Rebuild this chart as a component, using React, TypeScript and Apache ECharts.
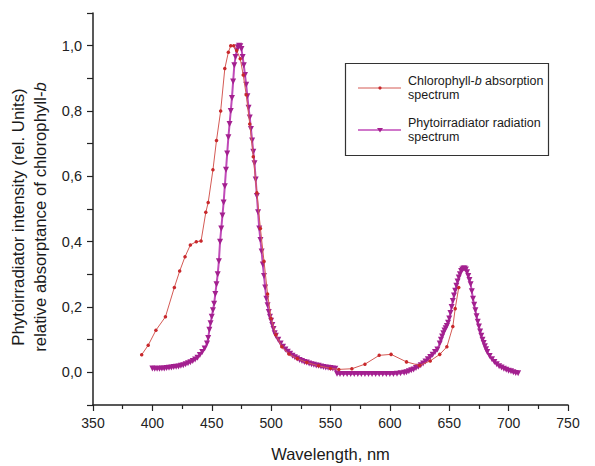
import React, { useEffect, useRef } from "react";
import * as echarts from "echarts";

const xTicks = [350, 400, 450, 500, 550, 600, 650, 700, 750];
const yLabelValues = [0, 0.2, 0.4, 0.6, 0.8, 1.0];

const chlorophyllB: [number, number][] = [
  [391, 0.054], [396.5, 0.083], [403, 0.129], [411, 0.17], [418.5, 0.26], [423, 0.31],
  [427.5, 0.354], [432, 0.39], [437, 0.4], [441, 0.402], [445, 0.49], [447, 0.52],
  [451, 0.62], [454, 0.71], [457.5, 0.8], [461, 0.93], [464, 0.98], [466, 1.0],
  [468.5, 1.0], [471, 0.985], [474, 0.96], [476.5, 0.91], [479, 0.85], [482, 0.76],
  [485, 0.66], [488, 0.55], [491, 0.44], [494, 0.34], [497, 0.24], [500, 0.165],
  [504, 0.115], [509, 0.078], [515, 0.056], [522, 0.042], [530, 0.03], [540, 0.02],
  [550, 0.012], [557, 0.009], [568, 0.011], [579, 0.025], [591, 0.052], [601, 0.055],
  [614, 0.032], [625, 0.021], [634, 0.035], [642, 0.055], [648, 0.078], [653, 0.14],
  [655, 0.195], [658, 0.26],
];

const phytoirradiator: [number, number][] = [
  [400, 0.012], [402, 0.011], [404, 0.011], [406, 0.011], [408, 0.012], [410, 0.012],
  [412, 0.013], [414, 0.014], [416, 0.015], [418, 0.016], [420, 0.017], [422, 0.018],
  [424, 0.02], [426, 0.022], [428, 0.025], [430, 0.028], [432, 0.031], [434, 0.035],
  [436, 0.039], [438, 0.045], [440, 0.053], [442, 0.062], [444, 0.073], [446, 0.088],
  [447, 0.105], [448, 0.13], [449, 0.15], [450, 0.17], [451, 0.19], [452, 0.21],
  [453, 0.24], [454, 0.27], [455, 0.3], [456, 0.34], [457, 0.4], [458, 0.44],
  [459, 0.48], [460, 0.52], [461, 0.57], [462, 0.62], [463, 0.67], [464, 0.72],
  [465, 0.76], [466, 0.8], [467, 0.84], [468, 0.89], [469, 0.94], [470, 0.965],
  [471, 0.985], [472, 0.995], [473, 1.0], [474, 0.998], [475, 0.99], [476, 0.965],
  [477, 0.94], [478, 0.91], [479, 0.88], [480, 0.845], [481, 0.81], [482, 0.78],
  [483, 0.745], [484, 0.71], [485, 0.675], [486, 0.64], [487, 0.59], [488, 0.54],
  [489, 0.49], [490, 0.44], [491, 0.405], [492, 0.37], [493, 0.33], [494, 0.295],
  [495, 0.26], [496, 0.225], [497, 0.205], [498, 0.185], [499, 0.17], [500, 0.158],
  [501, 0.145], [502, 0.133], [503, 0.12], [504, 0.112], [506, 0.1], [508, 0.088],
  [510, 0.078], [512, 0.07], [514, 0.063], [516, 0.057], [518, 0.051], [520, 0.046],
  [522, 0.042], [524, 0.038], [526, 0.035], [528, 0.032], [530, 0.03], [532, 0.027],
  [534, 0.025], [536, 0.023], [538, 0.021], [540, 0.02], [542, 0.018], [544, 0.016],
  [546, 0.015], [548, 0.014], [550, 0.013], [552, 0.012], [554, 0.011], [555.5, -0.004],
  [558, -0.005], [561, -0.005], [564, -0.005], [567, -0.005], [570, -0.005], [573, -0.005],
  [576, -0.005], [579, -0.005], [582, -0.005], [585, -0.005], [588, -0.005], [591, -0.005],
  [594, -0.005], [597, -0.005], [600, -0.005], [603, -0.005], [606, -0.004], [609, -0.003],
  [612, -0.001], [614, 0.0], [616, 0.003], [618, 0.006], [620, 0.009], [622, 0.013],
  [624, 0.017], [626, 0.022], [628, 0.027], [630, 0.033], [632, 0.04], [634, 0.047],
  [636, 0.054], [638, 0.062], [640, 0.07], [642, 0.088], [643, 0.1], [644, 0.11],
  [645, 0.12], [646, 0.128], [647, 0.135], [648, 0.142], [649, 0.152], [650, 0.165],
  [651, 0.182], [652, 0.2], [653, 0.218], [654, 0.235], [655, 0.25], [656, 0.265],
  [657, 0.278], [658, 0.29], [659, 0.3], [660, 0.31], [661, 0.315], [662, 0.318],
  [663, 0.318], [664, 0.315], [665, 0.306], [666, 0.295], [667, 0.283], [668, 0.27],
  [669, 0.248], [670, 0.225], [671, 0.207], [672, 0.19], [673, 0.172], [674, 0.155],
  [675, 0.14], [676, 0.125], [677, 0.112], [678, 0.1], [679, 0.09], [680, 0.08],
  [681, 0.071], [682, 0.062], [684, 0.05], [686, 0.04], [688, 0.032], [690, 0.025],
  [692, 0.019], [694, 0.015], [696, 0.011], [698, 0.008], [700, 0.005], [702, 0.003],
  [704, 0.0], [706, -0.002], [708, -0.003],
];

const FONT = "'Liberation Sans', Arial, sans-serif";
const RED_LINE = "#d45a55";
const RED_MARK = "#c8282c";
const PURPLE_LINE = "#c04ab8";
const PURPLE_MARK = "#a3208f";

export default function App() {
  const ref = useRef<HTMLDivElement>(null);
  useEffect(() => {
    if (!ref.current) return;
    const chart = echarts.init(ref.current, null, { renderer: "svg" });
    chart.setOption({
      animation: false,
      backgroundColor: "#ffffff",
      grid: { left: 93, right: 27, top: 13, bottom: 61, containLabel: false, outerBoundsMode: "none" },
      xAxis: {
        type: "value",
        min: xTicks[0],
        max: xTicks[xTicks.length - 1],
        interval: 50,
        name: "Wavelength, nm",
        nameLocation: "middle",
        nameGap: 40,
        nameTextStyle: { fontFamily: FONT, fontSize: 16.5, color: "#1a1a1a" },
        axisLine: { show: true, onZero: false, lineStyle: { color: "#222", width: 1.5 } },
        axisTick: { show: true, length: 6, lineStyle: { color: "#222", width: 1.2 } },
        minorTick: { show: true, splitNumber: 2, length: 4, lineStyle: { color: "#222", width: 1.2 } },
        axisLabel: { fontFamily: FONT, fontSize: 14, color: "#222", margin: 11 },
        splitLine: { show: false },
        minorSplitLine: { show: false },
      },
      yAxis: {
        type: "value",
        min: -0.1,
        max: 1.1,
        interval: 0.1,
        axisLine: { show: true, onZero: false, lineStyle: { color: "#222", width: 1.5 } },
        axisTick: { show: true, length: 6, lineStyle: { color: "#222", width: 1.2 } },
        axisLabel: {
          fontFamily: FONT,
          fontSize: 14.5,
          color: "#222",
          margin: 11,
          formatter: (v: number) => {
            const hit = yLabelValues.find((t) => Math.abs(t - v) < 1e-6);
            return hit === undefined ? "" : hit.toFixed(1).replace(".", ",");
          },
        },
        splitLine: { show: false },
      },
      series: [
        {
          name: "Phytoirradiator radiation spectrum",
          type: "line",
          data: phytoirradiator,
          lineStyle: { color: PURPLE_LINE, width: 2 },
          itemStyle: { color: PURPLE_MARK },
          symbol: "triangle",
          symbolRotate: 180,
          symbolSize: 6,
          showAllSymbol: true,
          z: 2,
        },
        {
          name: "Chlorophyll-b absorption spectrum",
          type: "line",
          data: chlorophyllB,
          lineStyle: { color: RED_LINE, width: 1 },
          itemStyle: { color: RED_MARK },
          symbol: "circle",
          symbolSize: 3.5,
          showAllSymbol: true,
          z: 3,
        },
      ],
      graphic: [
        {
          type: "text",
          x: 29,
          y: 217,
          rotation: Math.PI / 2,
          style: {
            text: "{n|Phytoirradiator intensity (rel. Units)}\n{n|relative absorptance of chlorophyll-}{i|b}",
            align: "center",
            verticalAlign: "middle",
            fill: "#1a1a1a",
            rich: {
              n: { fontFamily: FONT, fontSize: 16.8, lineHeight: 22, fill: "#1a1a1a" },
              i: { fontFamily: FONT, fontSize: 16.8, lineHeight: 22, fontStyle: "italic", fill: "#1a1a1a" },
            },
          },
        },
        {
          type: "rect",
          shape: { x: 345.5, y: 63.5, width: 203, height: 92 },
          style: { fill: "#ffffff", stroke: "#333", lineWidth: 1.2 },
        },
        {
          type: "line",
          shape: { x1: 358, y1: 88, x2: 401, y2: 88 },
          style: { stroke: RED_LINE, lineWidth: 1 },
        },
        { type: "circle", shape: { cx: 380, cy: 88, r: 1.6 }, style: { fill: RED_MARK } },
        {
          type: "text",
          x: 408,
          y: 88,
          style: {
            text: "{n|Chlorophyll-}{i|b}{n| absorption}\n{n|spectrum}",
            align: "left",
            verticalAlign: "middle",
            rich: {
              n: { fontFamily: FONT, fontSize: 12.5, lineHeight: 14, fill: "#1a1a1a" },
              i: { fontFamily: FONT, fontSize: 12.5, lineHeight: 14, fontStyle: "italic", fill: "#1a1a1a" },
            },
          },
        },
        {
          type: "line",
          shape: { x1: 358, y1: 130, x2: 401, y2: 130 },
          style: { stroke: PURPLE_LINE, lineWidth: 1.5 },
        },
        {
          type: "polygon",
          shape: { points: [[377, 128], [383, 128], [380, 132.5]] },
          style: { fill: PURPLE_MARK },
        },
        {
          type: "text",
          x: 408,
          y: 130,
          style: {
            text: "Phytoirradiator radiation\nspectrum",
            align: "left",
            verticalAlign: "middle",
            fontFamily: FONT,
            fontSize: 12.5,
            lineHeight: 14,
            fill: "#1a1a1a",
          },
        },
      ],
    });
    return () => chart.dispose();
  }, []);
  return (
    <div
      ref={ref}
      style={{ position: "fixed", left: 0, top: 0, width: 595, height: 466, background: "#fff" }}
    />
  );
}
